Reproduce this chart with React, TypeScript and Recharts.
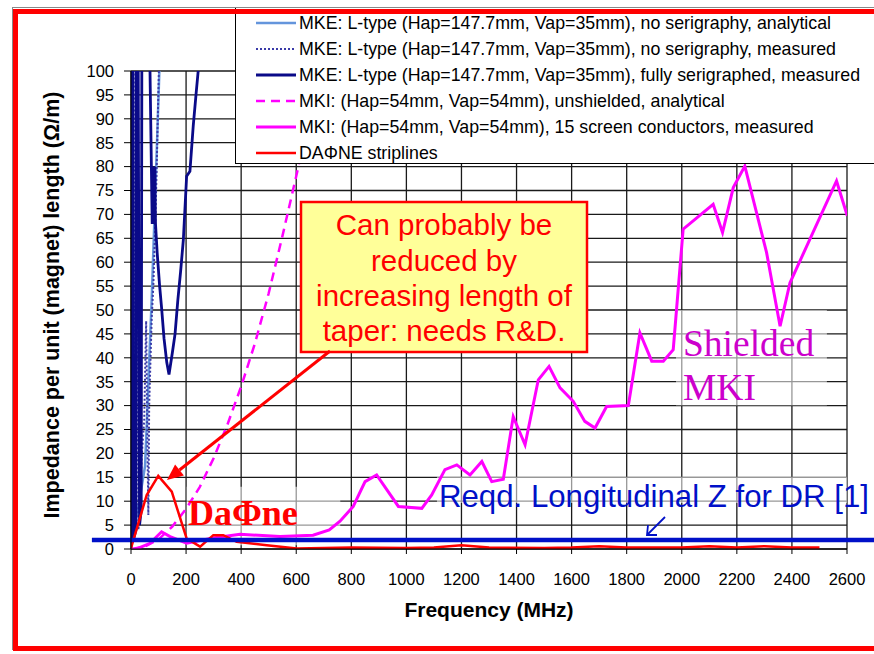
import React from 'react';
import { LineChart, Line, XAxis, YAxis, CartesianGrid, ReferenceLine, ReferenceArea } from 'recharts';

const FONT = '"Liberation Sans", Arial, sans-serif';
const SERIF = '"Liberation Serif", "Times New Roman", serif';

// tick labels
const xTicks = [0, 200, 400, 600, 800, 1000, 1200, 1400, 1600, 1800, 2000, 2200, 2400, 2600];
const yTicks = [0, 5, 10, 15, 20, 25, 30, 35, 40, 45, 50, 55, 60, 65, 70, 75, 80, 85, 90, 95, 100];

// MKE L-type, no serigraphy, analytical
const mkeAnaFreq = [0, 8, 20, 30, 40, 51, 60, 70, 75, 85, 95, 103, 110];
const mkeAnaZ = [0, 3.4, 7, 10, 13.5, 17.3, 30, 45, 52, 69, 86, 100, 112];

// MKE L-type, no serigraphy, measured
const mkeNoSerFreq = [0, 4, 12, 16, 27, 33, 39, 48, 55, 59, 63, 66, 75, 81, 87, 93, 98, 102];
const mkeNoSerZ = [0, 120, 3, 120, 4, 10, 19.4, 27, 47.7, 25, 7.1, 30, 48, 55, 66, 79, 92, 102];

// MKE L-type, fully serigraphed, measured
const mkeSerFreq = [0, 1, 7, 9, 18, 20, 25, 31, 37, 40, 52, 64, 69, 74, 77, 80, 83, 86, 89, 95, 104, 111, 120, 130, 138, 150, 160, 170, 180, 190, 202, 214, 226, 236, 244, 252];
const mkeSerZ = [0, 125, 125, 2, 4, 125, 125, 5, 8, 130, 140, 120, 100, 80, 68, 80, 68, 80, 68, 62, 55, 50.5, 44, 39, 36.5, 41, 45, 52, 58, 64.6, 78, 79, 88.5, 95, 100, 108];

// MKI unshielded, analytical
const mkiAnaFreq = [0, 50, 100, 150, 200, 250, 300, 350, 400, 450, 500, 550, 600, 650, 700];
const mkiAnaZ = [0, 0.5, 2, 4.7, 8.4, 13, 19, 26, 34, 43, 53.5, 65.5, 78, 91, 105];

// MKI 15 screen conductors, measured
const mkiMeasFreq = [20, 69, 111, 142, 202, 298, 396, 541, 661, 720, 759, 807, 850, 892, 971, 1056, 1092, 1140, 1183, 1231, 1274, 1310, 1352, 1388, 1431, 1479, 1518, 1558, 1606, 1648, 1685, 1727, 1806, 1848, 1891, 1933, 1969, 2005, 2114, 2148, 2187, 2229, 2308, 2357, 2393, 2562, 2601];
const mkiMeasZ = [0, 1.2, 3.6, 2.6, 1.2, 2.3, 3.1, 2.6, 2.9, 4, 5.8, 8.9, 14.1, 15.5, 8.9, 8.5, 11.3, 16.6, 17.6, 15.5, 18.3, 14.1, 14.6, 27.7, 21.8, 35.4, 38.2, 33.7, 30.9, 26.7, 25.3, 29.8, 30, 45.2, 39.3, 39.3, 41.7, 66.9, 72.1, 66.2, 75.6, 80.1, 62, 46.6, 55.7, 77, 69.7];

// DAFNE striplines
const dafneFreq = [0, 57, 99, 148, 202, 251, 299, 335, 384, 493, 602, 800, 1000, 1100, 1200, 1300, 1500, 1600, 1700, 1800, 2000, 2100, 2200, 2300, 2400, 2500];
const dafneZ = [0.2, 11.3, 15.3, 12, 2.2, 0.5, 2.9, 2.9, 1.5, 0.8, 0.1, 0.3, 0.2, 0.3, 0.8, 0.3, 0.2, 0.3, 0.6, 0.3, 0.3, 0.6, 0.3, 0.6, 0.3, 0.3];

const reqdZ = 1.9;

const zip = (fs: number[], zs: number[]) => fs.map((f, i) => ({ f, z: zs[i] }));

const series = [
  { name: 'MKE: L-type (Hap=147.7mm, Vap=35mm), no serigraphy, analytical', data: zip(mkeAnaFreq, mkeAnaZ), color: '#6495dc', width: 2.5, dash: undefined as string | undefined },
  { name: 'MKE: L-type (Hap=147.7mm, Vap=35mm), no serigraphy, measured', data: zip(mkeNoSerFreq, mkeNoSerZ), color: '#3a3aa8', width: 2, dash: '2 2' },
  { name: 'MKE: L-type (Hap=147.7mm, Vap=35mm), fully serigraphed, measured', data: zip(mkeSerFreq, mkeSerZ), color: '#0a0a88', width: 2.8, dash: undefined },
  { name: 'MKI: (Hap=54mm, Vap=54mm), unshielded, analytical', data: zip(mkiAnaFreq, mkiAnaZ), color: '#ff00ff', width: 2.5, dash: '9 6' },
  { name: 'MKI: (Hap=54mm, Vap=54mm), 15 screen conductors, measured', data: zip(mkiMeasFreq, mkiMeasZ), color: '#ff00ff', width: 3, dash: undefined },
  { name: 'DAΦNE striplines', data: zip(dafneFreq, dafneZ), color: '#ff0000', width: 2.5, dash: undefined },
];

const YTitle = (props: any) => {
  const vb = props.viewBox;
  const cx = 52;
  const cy = vb.y + vb.height / 2 - 5;
  return (
    <text x={cx} y={cy} transform={`rotate(-90 ${cx} ${cy})`} textAnchor="middle" dominantBaseline="central"
      style={{ fontSize: 21.5, fontWeight: 'bold', fill: '#000', fontFamily: FONT }}>
      Impedance per unit (magnet) length (Ω/m)
    </text>
  );
};

function Legend() {
  return (
    <div style={{ position: 'absolute', left: 235, top: 7, width: 700, height: 157, border: '1px solid #000', background: '#fff', paddingTop: 2, boxSizing: 'border-box', fontFamily: FONT }}>
      {series.map((s) => (
        <div key={s.name} style={{ height: 26, display: 'flex', alignItems: 'center' }}>
          <svg width={40} height={6} style={{ marginLeft: 20 }}>
            <line x1={0} y1={3} x2={40} y2={3} stroke={s.color} strokeWidth={s.width} strokeDasharray={s.dash} />
          </svg>
          <span style={{ marginLeft: 3, fontSize: 17.8, whiteSpace: 'nowrap', color: '#000' }}>{s.name}</span>
        </div>
      ))}
    </div>
  );
}

function Notes() {
  return (
    <svg width={874} height={654} style={{ position: 'absolute', left: 0, top: 0, pointerEvents: 'none' }}>
      <rect x={301} y={202} width={286} height={150} fill="#ffff99" stroke="#ff0000" strokeWidth={2.5} />
      <g style={{ fontFamily: FONT, fontSize: 29.5, fill: '#ff0000' }} textAnchor="middle">
        <text x={444} y={235}>Can probably be</text>
        <text x={444} y={271}>reduced by</text>
        <text x={444} y={306}>increasing length of</text>
        <text x={444} y={341}>taper: needs R&amp;D.</text>
      </g>
      <line x1={330} y1={351} x2={179.5} y2={470} stroke="#ff0000" strokeWidth={3} />
      <polygon points="167,480 183.9,475.5 175.1,464.5" fill="#ff0000" />
      <text x={188} y={525} style={{ fontFamily: SERIF, fontSize: 36, fontWeight: 'bold', fill: '#ff0000' }}>DaΦne</text>
      <text x={683} y={356} style={{ fontFamily: SERIF, fontSize: 37.5, fill: '#cc00cc' }}>Shielded</text>
      <text x={683} y={400} style={{ fontFamily: SERIF, fontSize: 37.5, fill: '#cc00cc' }}>MKI</text>
      <text x={439} y={507} style={{ fontFamily: FONT, fontSize: 31.2, fill: '#0010c8' }}>Reqd. Longitudinal Z for DR [1]</text>
      <line x1={665} y1={517} x2={648} y2={534} stroke="#0010c8" strokeWidth={1.8} />
      <polyline points="648,525 647,535 657,535" fill="none" stroke="#0010c8" strokeWidth={1.8} />
    </svg>
  );
}

export default function App() {
  return (
    <div style={{ position: 'absolute', left: 0, top: 0, width: 874, height: 654, overflow: 'hidden', background: '#fff' }}>
      <LineChart width={874} height={654} margin={{ top: 71, right: 27, bottom: 35, left: 0 }}
        style={{ position: 'absolute', left: 0, top: 0, fontFamily: FONT }}>
        <CartesianGrid stroke="#1a1a1a" strokeWidth={1.3} />
        <XAxis type="number" dataKey="f" domain={[0, 2600]} ticks={xTicks} interval={0} allowDataOverflow
          height={70} tickSize={5} tickMargin={19} stroke="#000"
          tick={{ fill: '#000', fontSize: 16.5, fontFamily: FONT }}
          label={{ value: 'Frequency (MHz)', position: 'insideBottom', offset: 2, style: { fontSize: 21, fontWeight: 'bold', fill: '#000', fontFamily: FONT } }} />
        <YAxis type="number" domain={[0, 100]} ticks={yTicks} interval={0} allowDataOverflow
          width={131} tickSize={7} tickMargin={10} stroke="#000"
          tick={{ fill: '#000', fontSize: 16.5, fontFamily: FONT }}
          label={<YTitle />} />
        {series.map((s) => (
          <Line key={s.name} data={s.data} dataKey="z" name={s.name} type="linear" dot={false} activeDot={false}
            stroke={s.color} strokeWidth={s.width} strokeDasharray={s.dash} isAnimationActive={false} />
        ))}
        <ReferenceArea x1={202} x2={760} y1={0.8} y2={13} fill="#fff" fillOpacity={0.55} stroke="none" />
        <ReferenceArea x1={1111} x2={2600} y1={9.6} y2={15.1} fill="#fff" fillOpacity={0.55} stroke="none" />
        <ReferenceArea x1={1979} x2={2527} y1={30} y2={50} fill="#fff" fillOpacity={0.55} stroke="none" />
        <ReferenceLine segment={[{ x: -142, y: reqdZ }, { x: 2700, y: reqdZ }]} stroke="#0010c8" strokeWidth={4.5} ifOverflow="visible" />
      </LineChart>
      <Legend />
      <Notes />
      <div style={{ position: 'absolute', left: 12, top: 7, width: 900, height: 643, borderLeft: '1px solid #888', borderTop: '1px solid #888', boxSizing: 'border-box' }} />
      <div style={{ position: 'absolute', left: 13, top: 9, width: 900, height: 642, border: '5px solid #ff0000', borderRight: 'none', boxSizing: 'border-box' }} />
    </div>
  );
}
